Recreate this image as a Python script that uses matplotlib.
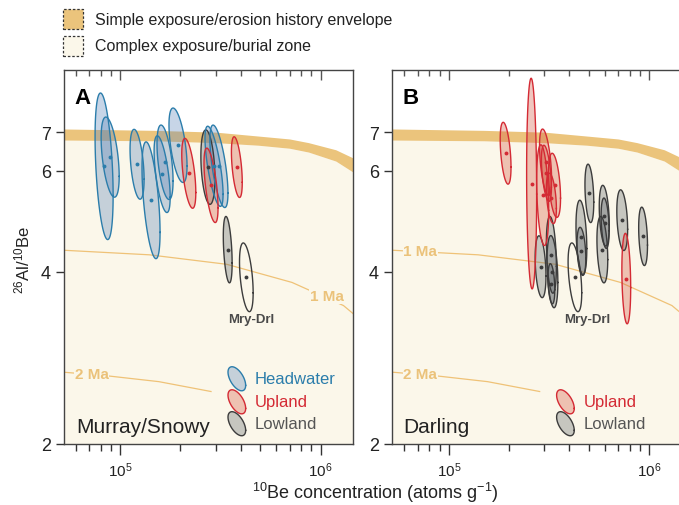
import numpy as np
import matplotlib.pyplot as plt
from matplotlib.patches import Rectangle
from matplotlib.ticker import NullFormatter, NullLocator

plt.rcParams['font.family'] = ['Liberation Sans', 'DejaVu Sans']
plt.rcParams['mathtext.fontset'] = 'custom'
plt.rcParams['mathtext.rm'] = 'Liberation Sans'
plt.rcParams['mathtext.it'] = 'Liberation Sans:italic'
plt.rcParams['mathtext.bf'] = 'Liberation Sans:bold'

# simple exposure/erosion envelope (10Be, upper and lower 26Al/10Be)
band_be = [5.2e4, 1.5e5, 3.0e5, 4.9e5, 7.0e5, 8.7e5, 1.19e6, 1.45e6]
band_hi = [7.10, 7.06, 7.01, 6.90, 6.82, 6.72, 6.53, 6.32]
band_lo = [6.79, 6.77, 6.72, 6.65, 6.57, 6.47, 6.24, 5.97]

# burial isochrons
iso1_be = [5.2e4, 1.4e5, 3.4e5, 7.2e5, 1.3e6, 1.45e6]
iso1_r = [4.36, 4.28, 4.12, 3.83, 3.49, 3.38]
iso2_be = [5.2e4, 8.7e4, 1.56e5, 2.84e5]
iso2_r = [2.67, 2.63, 2.57, 2.47]

# samples: 10Be, 26Al/10Be, half-width in dex (Be), half-height in dex (ratio), correlation
a_head_be = [8.32e4, 8.92e4, 1.215e5, 1.426e5, 1.675e5, 1.62e5, 1.944e5, 2.94e5, 3.11e5]
a_head_r = [6.11, 6.34, 6.16, 5.33, 6.21, 5.92, 6.65, 6.11, 6.11]
a_head_dx = [0.045, 0.045, 0.035, 0.045, 0.040, 0.040, 0.045, 0.045, 0.045]
a_head_dy = [0.128, 0.070, 0.061, 0.102, 0.065, 0.067, 0.065, 0.070, 0.072]
a_head_rho = [-0.4, -0.48, -0.43, -0.55, -0.5, -0.6, -0.55, -0.7, -0.65]

a_up_be = [2.20e5, 2.84e5, 3.82e5]
a_up_r = [5.94, 5.66, 6.09]
a_up_dx = [0.035, 0.035, 0.027]
a_up_dy = [0.061, 0.065, 0.053]
a_up_rho = [-0.55, -0.6, -0.5]

a_low_be = [2.74e5, 3.44e5]
a_low_r = [6.09, 4.37]
a_low_dx = [0.035, 0.022]
a_low_dy = [0.065, 0.058]
a_low_rho = [-0.3, -0.4]

b_up_be = [1.92e5, 2.59e5, 3.04e5, 3.07e5, 2.94e5, 3.37e5, 3.25e5, 7.69e5]
b_up_r = [6.44, 5.70, 6.21, 5.94, 5.44, 5.66, 5.37, 3.89]
b_up_dx = [0.027, 0.025, 0.030, 0.025, 0.030, 0.030, 0.025, 0.022]
b_up_dy = [0.054, 0.184, 0.058, 0.049, 0.088, 0.056, 0.044, 0.079]
b_up_rho = [-0.45, -0.1, -0.5, -0.5, -0.3, -0.4, -0.4, -0.2]

b_low_be = [5.03e5, 4.59e5, 4.59e5, 5.97e5, 6.03e5, 5.84e5, 7.34e5, 9.33e5,
            2.87e5, 3.25e5, 3.29e5, 3.25e5]
b_low_r = [5.48, 4.59, 4.34, 5.01, 4.86, 4.37, 4.92, 4.61, 4.08, 4.28, 4.00, 3.81]
b_low_dx = [0.022, 0.027, 0.022, 0.025, 0.020, 0.027, 0.027, 0.022,
            0.027, 0.025, 0.027, 0.017]
b_low_dy = [0.051, 0.065, 0.042, 0.053, 0.044, 0.058, 0.053, 0.051,
            0.054, 0.067, 0.063, 0.035]
b_low_rho = [-0.3] * 12

# Murray-Darling confluence sample (shown in both panels)
mry_be, mry_r, mry_dx, mry_dy, mry_rho = 4.26e5, 3.91, 0.034, 0.060, -0.45

styles = {
    'Headwater': dict(edge='#2b7dab', face='#5d86ba', text='#2b7dab'),
    'Upland': dict(edge='#d42a34', face='#d55a45', text='#d42a34'),
    'Lowland': dict(edge='#3c3c3c', face='#62686d', text='#555555'),
}
ORANGE = '#ebc47c'
CREAM = '#fbf7ea'


def ellipse(ax, be, r, dx, dy, rho, edge, face, alpha=0.34, dot=True):
    t = np.linspace(0, 2 * np.pi, 120)
    lx = np.log10(be) + dx * np.cos(t)
    ly = np.log10(r) + dy * (rho * np.cos(t) + np.sqrt(1 - rho ** 2) * np.sin(t))
    if face is not None:
        ax.fill(10 ** lx, 10 ** ly, color=face, alpha=alpha, lw=0, zorder=3)
    ax.plot(10 ** lx, 10 ** ly, color=edge, lw=1.0, zorder=4)
    if dot:
        ax.plot(be, r, 'o', color=edge, ms=2.8, mew=0, zorder=5)


def group(ax, name, be, r, dx, dy, rho):
    s = styles[name]
    for i in range(len(be)):
        ellipse(ax, be[i], r[i], dx[i], dy[i], rho[i], s['edge'], s['face'])


def setup(ax, xlim, right_spine=True):
    ax.set_xscale('log')
    ax.set_yscale('log')
    ax.fill_between(band_be, 2, band_lo, color=CREAM, lw=0, zorder=0)
    ax.fill_between(band_be, band_lo, band_hi, color=ORANGE, lw=0, zorder=1)
    ax.plot(iso1_be, iso1_r, color='#efc277', lw=0.9, zorder=2)
    ax.plot(iso2_be, iso2_r, color='#efc277', lw=0.9, zorder=2)
    ax.set_xlim(xlim)
    ax.set_ylim(2, 9)
    ax.set_yticks([2, 4, 6, 7], labels=['2', '4', '6', '7'])
    ax.yaxis.set_minor_locator(NullLocator())
    minor = [6e4, 7e4, 8e4, 9e4] + [k * 1e5 for k in range(2, 10)]
    ax.set_xticks([1e5, 1e6], labels=['$10^5$', '$10^6$'])
    ax.set_xticks(minor, minor=True)
    ax.xaxis.set_minor_formatter(NullFormatter())
    ax.tick_params(axis='x', which='major', direction='out', length=8, width=1,
                   labelsize=11, colors='#333333', labelcolor='#222222')
    ax.tick_params(axis='x', which='minor', direction='out', length=5, width=1,
                   colors='#333333')
    ax.tick_params(axis='y', which='major', direction='out', length=6, width=1,
                   labelsize=13, colors='#333333', labelcolor='#222222')
    for sp in ax.spines.values():
        sp.set_color('#444444')
        sp.set_linewidth(1.0)
    ax.spines['right'].set_visible(right_spine)
    top = ax.twiny()
    top.set_xscale('log')
    top.set_xlim(xlim)
    top.set_xticks([1e5, 1e6], labels=[])
    top.set_xticks(minor, minor=True)
    top.xaxis.set_minor_formatter(NullFormatter())
    top.tick_params(axis='x', which='major', direction='in', length=7, width=1,
                    colors='#555555')
    top.tick_params(axis='x', which='minor', direction='in', length=4, width=1,
                    colors='#555555')
    for sp in top.spines.values():
        sp.set_visible(False)


def iso_label(ax, x, y, text):
    ax.text(x, y, text, color='#ebc27a', fontsize=11, fontweight='bold',
            ha='center', va='center', zorder=2.5,
            bbox=dict(facecolor=CREAM, edgecolor='none', pad=0.5))


def legend(ax, names, ys):
    for name, y in zip(names, ys):
        s = styles[name]
        ellipse(ax, 3.82e5, y, 0.044, 0.021, -0.55, s['edge'], s['face'], dot=False)
        ax.text(4.7e5, y, name, color=s['text'], fontsize=12, ha='left',
                va='center', zorder=6)


fig = plt.figure(figsize=(6.79, 5.06), dpi=100)
axA = fig.add_axes([64 / 679, 61 / 506, 289 / 679, 374 / 506])
axB = fig.add_axes([392 / 679, 61 / 506, 287 / 679, 374 / 506])

setup(axA, (5.25e4, 1.45e6))
setup(axB, (5.2e4, 1.41e6), right_spine=False)

# panel A
group(axA, 'Lowland', a_low_be, a_low_r, a_low_dx, a_low_dy, a_low_rho)
group(axA, 'Headwater', a_head_be, a_head_r, a_head_dx, a_head_dy, a_head_rho)
group(axA, 'Upland', a_up_be, a_up_r, a_up_dx, a_up_dy, a_up_rho)
ellipse(axA, mry_be, mry_r, mry_dx, mry_dy, mry_rho, '#3c3c3c', None)
iso_label(axA, 1.07e6, 3.62, '1 Ma')
iso_label(axA, 7.2e4, 2.65, '2 Ma')
axA.text(4.5e5, 3.30, 'Mry-Drl', color='#4a4a4a', fontsize=9.5, fontweight='bold',
         ha='center', va='center')
legend(axA, ['Headwater', 'Upland', 'Lowland'], [2.60, 2.37, 2.17])
axA.text(0.042, 0.032, 'Murray/Snowy', transform=axA.transAxes, fontsize=15,
         color='#222222', ha='left', va='baseline')
axA.text(0.035, 0.955, 'A', transform=axA.transAxes, fontsize=16,
         fontweight='bold', ha='left', va='top')

# panel B
group(axB, 'Lowland', b_low_be, b_low_r, b_low_dx, b_low_dy, b_low_rho)
group(axB, 'Upland', b_up_be, b_up_r, b_up_dx, b_up_dy, b_up_rho)
ellipse(axB, mry_be, mry_r, mry_dx, mry_dy, mry_rho, '#3c3c3c', None)
iso_label(axB, 7.2e4, 4.35, '1 Ma')
iso_label(axB, 7.2e4, 2.65, '2 Ma')
axB.text(4.9e5, 3.30, 'Mry-Drl', color='#4a4a4a', fontsize=9.5, fontweight='bold',
         ha='center', va='center')
legend(axB, ['Upland', 'Lowland'], [2.37, 2.17])
axB.text(0.038, 0.032, 'Darling', transform=axB.transAxes, fontsize=15,
         color='#222222', ha='left', va='baseline')
axB.text(0.035, 0.955, 'B', transform=axB.transAxes, fontsize=16,
         fontweight='bold', ha='left', va='top')

# axis titles
fig.text(22 / 679, 1 - 260 / 506, '$^{26}$Al/$^{10}$Be', rotation=90,
         fontsize=12, ha='center', va='center', color='#222222')
fig.text(375 / 679, 13 / 506, '$^{10}$Be concentration (atoms g$^{-1}$)',
         fontsize=13, ha='center', va='center', color='#222222')

# top key
for y0, fc, txt in [(10, ORANGE, 'Simple exposure/erosion history envelope'),
                    (37, CREAM, 'Complex exposure/burial zone')]:
    fig.patches.append(Rectangle((63 / 679, 1 - (y0 + 20) / 506), 20 / 679, 20 / 506,
                                 transform=fig.transFigure, facecolor=fc,
                                 edgecolor='#333333', lw=0.9, ls=(0, (2, 1.5))))
    fig.text(95 / 679, 1 - (y0 + 10) / 506, txt, fontsize=11.5, color='#222222',
             ha='left', va='center')

fig.savefig('out.png', dpi=100)
